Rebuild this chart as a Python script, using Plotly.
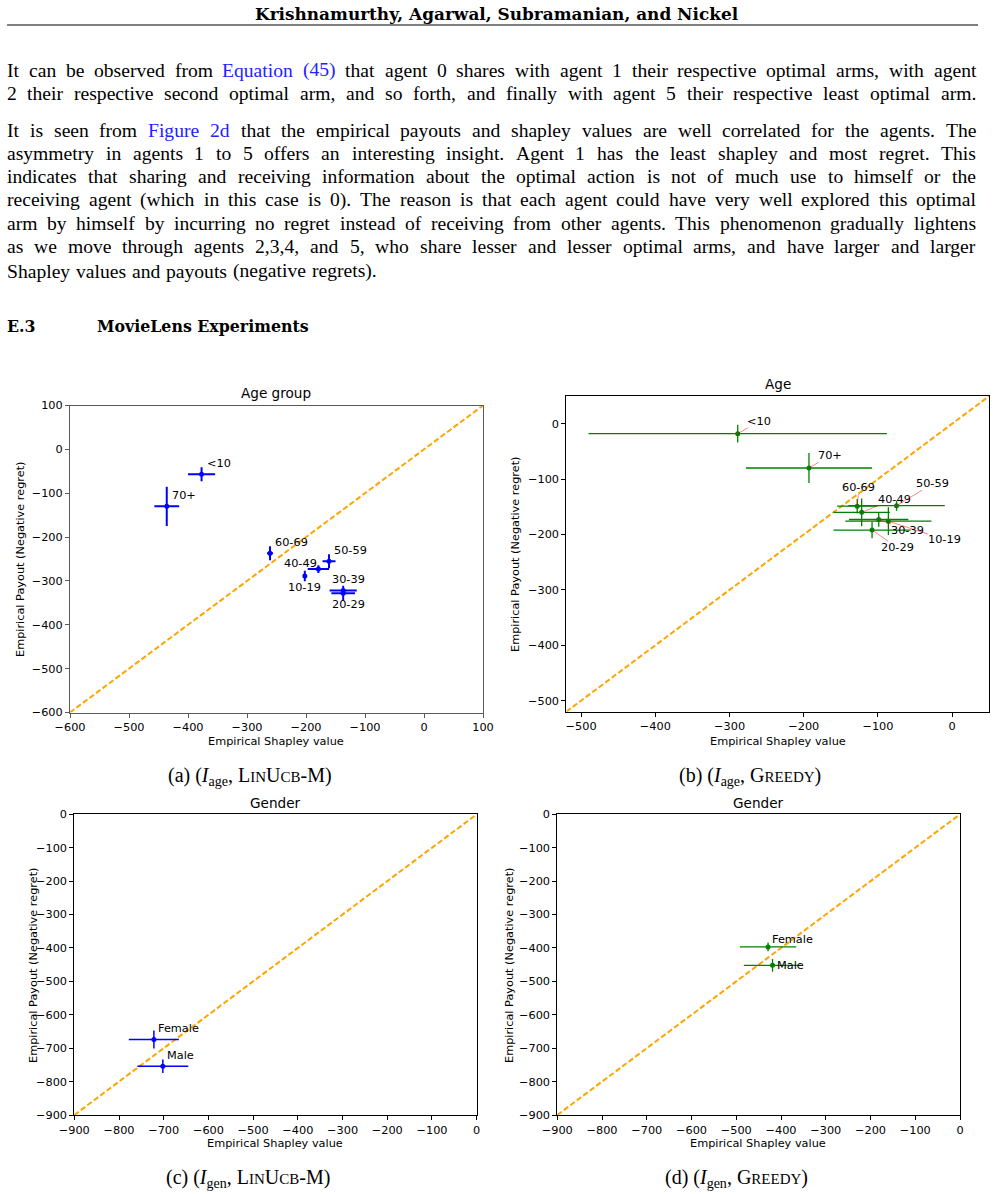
import plotly.graph_objects as go

W, H = 996, 1194

# ---------------- data ----------------
age_groups = ["<10", "10-19", "20-29", "30-39", "40-49", "50-59", "60-69", "70+"]

linucb_age_shapley = [-377, -202, -137, -137, -179, -161, -261, -436]
linucb_age_payout = [-57, -289, -328, -322, -273, -255, -237, -130]
linucb_age_shapley_err = [23, 2, 20, 23, 18, 11, 5, 21]
linucb_age_payout_err = [16, 12, 17, 6, 9, 16, 16, 45]

greedy_age_shapley = [-289, -86, -108, -99, -122, -75, -128, -193]
greedy_age_payout = [-18, -176, -192, -173, -160, -148, -149, -80]
greedy_age_shapley_err = [201, 58, 52, 40, 38, 65, 27, 85]
greedy_age_payout_err = [16, 25, 15, 13, 25, 9, 13, 27]

genders = ["Female", "Male"]
linucb_gen_shapley = [-722, -702]
linucb_gen_payout = [-674, -754]
linucb_gen_shapley_err = [56, 57]
linucb_gen_payout_err = [27, 20]

greedy_gen_shapley = [-429, -419]
greedy_gen_payout = [-397, -452]
greedy_gen_shapley_err = [63, 64]
greedy_gen_payout_err = [13, 19]

ticks_a = [-600, -500, -400, -300, -200, -100, 0, 100]
ticks_b = [-500, -400, -300, -200, -100, 0]
ticks_cd = [-900, -800, -700, -600, -500, -400, -300, -200, -100, 0]

range_a = [-600, 100]
range_b = [-520, 50]
range_cd = [-900, 0]

# ---------------- layout helpers ----------------
SANS = "DejaVu Sans"
SERIF = "Liberation Serif"
FS = 11.3


def px(x, y):
    return x / W, 1 - y / H


def ticktext(vals):
    return [str(v).replace("-", "\u2212") for v in vals]


fig = go.Figure()
annotations = []
shapes = []

# pixel boxes (left, top, right, bottom)
boxes = {
    "a": (70, 405.5, 483, 712.5),
    "b": (566.3, 396, 989.3, 711.7),
    "c": (74.3, 814.3, 476.7, 1115),
    "d": (557.3, 814.3, 960, 1115),
}
panels = [
    ("a", "", range_a, ticks_a, "#5a5a5a"),
    ("b", "2", range_b, ticks_b, "black"),
    ("c", "3", range_cd, ticks_cd, "black"),
    ("d", "4", range_cd, ticks_cd, "black"),
]

layout_axes = {}
for key, sfx, rng, tv, lc in panels:
    l, t, r, b = boxes[key]
    common = dict(
        range=rng, tickvals=tv, ticktext=ticktext(tv), showgrid=False, zeroline=False,
        showline=True, mirror=True, linecolor=lc, linewidth=1, ticks="outside",
        ticklen=4, tickwidth=1, tickcolor=lc, automargin=False,
        tickfont=dict(family=SANS, size=FS, color="black"),
    )
    layout_axes["xaxis" + sfx] = dict(common, domain=[l / W, r / W], anchor="y" + sfx)
    layout_axes["yaxis" + sfx] = dict(common, domain=[1 - b / H, 1 - t / H], anchor="x" + sfx)
    # diagonal y = x
    fig.add_trace(go.Scatter(
        x=rng, y=rng, mode="lines", xaxis="x" + sfx, yaxis="y" + sfx,
        line=dict(color="orange", width=2, dash="5.5px,2.6px"), showlegend=False,
        hoverinfo="skip"))


def add_points(sfx, xs, ys, xe, ye, color, thick, msize):
    fig.add_trace(go.Scatter(
        x=xs, y=ys, mode="markers", xaxis="x" + sfx, yaxis="y" + sfx,
        marker=dict(color=color, size=msize),
        error_x=dict(type="data", array=xe, color=color, thickness=thick, width=0),
        error_y=dict(type="data", array=ye, color=color, thickness=thick, width=0),
        showlegend=False))


add_points("", linucb_age_shapley, linucb_age_payout, linucb_age_shapley_err,
           linucb_age_payout_err, "blue", 2, 5)
add_points("2", greedy_age_shapley, greedy_age_payout, greedy_age_shapley_err,
           greedy_age_payout_err, "green", 1.3, 5)
add_points("3", linucb_gen_shapley, linucb_gen_payout, linucb_gen_shapley_err,
           linucb_gen_payout_err, "blue", 1.5, 5)
add_points("4", greedy_gen_shapley, greedy_gen_payout, greedy_gen_shapley_err,
           greedy_gen_payout_err, "green", 1.3, 5)

# ---------------- point labels ----------------
lab_a_shift = {"<10": (5, 11), "10-19": (-16.7, -11), "20-29": (-11.3, -11.3),
               "30-39": (-11.3, 11), "40-49": (-34.3, 6), "50-59": (4.7, 10.7),
               "60-69": (5, 10.7), "70+": (5, 10.7)}
for name, xv, yv in zip(age_groups, linucb_age_shapley, linucb_age_payout):
    dx, dy = lab_a_shift[name]
    annotations.append(dict(x=xv, y=yv, xref="x", yref="y", text=name, showarrow=False,
                            xanchor="left", yanchor="middle", xshift=dx, yshift=dy,
                            borderpad=0, borderwidth=0,
                            font=dict(family=SANS, size=FS, color="black")))

lab_b_off = {"<10": (21.3, -12.3), "70+": (20.7, -12.3), "60-69": (1.7, -18.4),
             "50-59": (36.3, -22), "40-49": (32.7, -13.3), "30-39": (28.7, 10.7),
             "10-19": (56.3, 18.3), "20-29": (25.6, 17.7)}
for name, xv, yv in zip(age_groups, greedy_age_shapley, greedy_age_payout):
    ax, ay = lab_b_off[name]
    annotations.append(dict(x=xv, y=yv, xref="x2", yref="y2", text=name, showarrow=True,
                            ax=ax, ay=ay, arrowhead=0, arrowwidth=0.6,
                            arrowcolor="rgba(255,0,0,0.8)", standoff=0,
                            borderpad=0, borderwidth=0,
                            font=dict(family=SANS, size=FS, color="black")))

lab_c_shift = {"Female": (4, 10.6), "Male": (4, 10.6)}
for name, xv, yv in zip(genders, linucb_gen_shapley, linucb_gen_payout):
    dx, dy = lab_c_shift[name]
    annotations.append(dict(x=xv, y=yv, xref="x3", yref="y3", text=name, showarrow=False,
                            xanchor="left", yanchor="middle", xshift=dx, yshift=dy,
                            borderpad=0, borderwidth=0,
                            font=dict(family=SANS, size=FS, color="black")))

lab_d_shift = {"Female": (3.7, 7), "Male": (4, 0)}
for name, xv, yv in zip(genders, greedy_gen_shapley, greedy_gen_payout):
    dx, dy = lab_d_shift[name]
    annotations.append(dict(x=xv, y=yv, xref="x4", yref="y4", text=name, showarrow=False,
                            xanchor="left", yanchor="middle", xshift=dx, yshift=dy,
                            borderpad=0, borderwidth=0,
                            font=dict(family=SANS, size=FS, color="black")))


# ---------------- panel texts ----------------
def ptext(x, y, text, size, family=SANS, color="black", angle=0, xanchor="center"):
    xp, yp = px(x, y)
    annotations.append(dict(x=xp, y=yp, xref="paper", yref="paper", text=text,
                            showarrow=False, xanchor=xanchor, yanchor="middle",
                            textangle=angle, borderpad=0, borderwidth=0,
                            font=dict(family=family, size=size, color=color)))


TS = 13.6
ptext(276, 393, "Age group", TS)
ptext(778, 384, "Age", TS)
ptext(275, 803, "Gender", TS)
ptext(758, 803, "Gender", TS)

xt = "Empirical Shapley value"
yt = "Empirical Payout (Negative regret)"
ptext(276, 741, xt, FS)
ptext(778, 741, xt, FS)
ptext(275, 1143, xt, FS)
ptext(758, 1143, xt, FS)
ptext(20, 559, yt, FS, angle=-90)
ptext(515, 554, yt, FS, angle=-90)
ptext(33, 965, yt, FS, angle=-90)
ptext(509, 965, yt, FS, angle=-90)

sc = "<span style='font-size:15px'>%s</span>"
linucb = "L" + sc % "IN" + "U" + sc % "CB" + "-M"
greedy = "G" + sc % "REEDY"
CS = 20
ptext(250, 776, "(a) (<i>I</i><sub>age</sub>, " + linucb + ")", CS, family=SERIF)
ptext(750, 776, "(b) (<i>I</i><sub>age</sub>, " + greedy + ")", CS, family=SERIF)
ptext(248, 1178, "(c) (<i>I</i><sub>gen</sub>, " + linucb + ")", CS, family=SERIF)
ptext(736, 1178, "(d) (<i>I</i><sub>gen</sub>, " + greedy + ")", CS, family=SERIF)

# ---------------- page text ----------------
ptext(496, 14, "<b>Krishnamurthy, Agarwal, Subramanian, and Nickel</b>", 16.9,
      family="DejaVu Serif")
shapes.append(dict(type="line", xref="paper", yref="paper",
                   x0=7 / W, x1=978 / W, y0=1 - 25 / H, y1=1 - 25 / H,
                   line=dict(color="black", width=1)))

body = [
    (70.5, "It can be observed from Equation (45) that agent 0 shares with agent 1 their respective optimal arms, with agent", True),
    (94, "2 their respective second optimal arm, and so forth, and finally with agent 5 their respective least optimal arm.", True),
    (130, "It is seen from Figure 2d that the empirical payouts and shapley values are well correlated for the agents. The", True),
    (153.3, "asymmetry in agents 1 to 5 offers an interesting insight. Agent 1 has the least shapley and most regret. This", True),
    (176.7, "indicates that sharing and receiving information about the optimal action is not of much use to himself or the", True),
    (199.7, "receiving agent (which in this case is 0). The reason is that each agent could have very well explored this optimal", True),
    (223.3, "arm by himself by incurring no regret instead of receiving from other agents. This phenomenon gradually lightens", True),
    (246.7, "as we move through agents 2,3,4, and 5, who share lesser and lesser optimal arms, and have larger and larger", True),
    (271.3, "Shapley values and payouts (negative regrets).", False),
]
link_words = {"Equation", "(45)", "Figure", "2d"}

# Times-compatible advance widths (per 1000 em) used to justify lines
TIMES = {' ': 250, ',': 250, '.': 250, '(': 333, ')': 333, '-': 333}
TIMES.update(dict(zip("abcdefghijklmnopqrstuvwxyz",
                      [444, 500, 444, 500, 444, 333, 500, 500, 278, 278, 500, 278, 778,
                       500, 500, 500, 500, 333, 389, 278, 500, 500, 722, 500, 500, 444])))
TIMES.update(dict(zip("ABCDEFGHIJKLMNOPQRSTUVWXYZ",
                      [722, 667, 667, 722, 611, 556, 722, 722, 333, 389, 722, 611, 889,
                       722, 722, 556, 722, 667, 556, 611, 722, 722, 944, 722, 722, 611])))
TIMES.update({d: 500 for d in "0123456789"})

BS = 19.6
X0, X1 = 7, 976


def wwidth(word):
    return sum(TIMES.get(ch, 500) for ch in word) * BS / 1000


for y, line, justify in body:
    words = line.split(" ")
    widths = [wwidth(w) for w in words]
    if justify:
        gap = (X1 - X0 - sum(widths)) / (len(words) - 1)
    else:
        gap = 300 * BS / 1000
    x = X0
    for w, wd in zip(words, widths):
        col = "#2222ff" if w in link_words else "black"
        ptext(x, y, w, BS, family=SERIF, color=col, xanchor="left")
        x += wd + gap

ptext(7, 326, "<b>E.3</b>", 15.8, family="DejaVu Serif", xanchor="left")
ptext(97, 326, "<b>MovieLens Experiments</b>", 15.8, family="DejaVu Serif", xanchor="left")

fig.update_layout(
    width=W, height=H, margin=dict(l=0, r=0, t=0, b=0, pad=0, autoexpand=False),
    paper_bgcolor="white", plot_bgcolor="white",
    annotations=annotations, shapes=shapes, showlegend=False,
    **layout_axes,
)

fig.write_html("out.html", config={"displayModeBar": False})
